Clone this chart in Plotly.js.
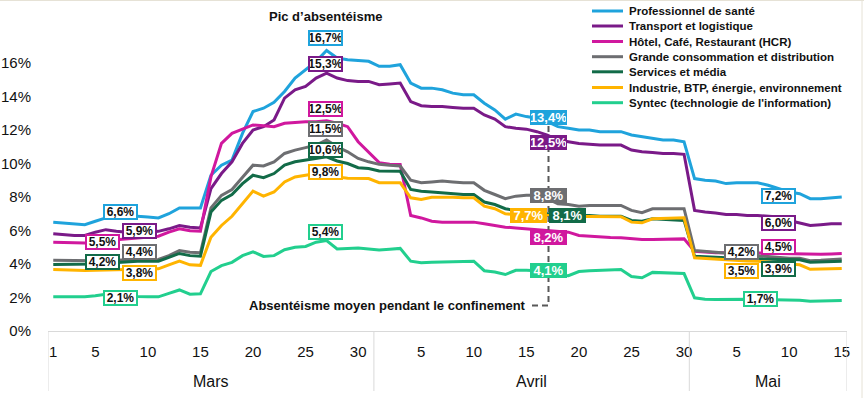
<!DOCTYPE html>
<html><head><meta charset="utf-8">
<script src="https://cdn.plot.ly/plotly-3.0.1.min.js"></script>
<style>html,body{margin:0;padding:0;background:#fff}#chart{width:864px;height:398px}</style>
</head><body><div id="chart"></div>
<script>
// ---------- DATA ----------
const months = ['Mars', 'Avril', 'Mai'];
const daysInMonth = [31, 30, 15];
const dayTicks = [1, 5, 10, 15, 20, 25, 30];
const yTickValues = [0, 2, 4, 6, 8, 10, 12, 14, 16];
const yTickLabels = ['0%', '2%', '4%', '6%', '8%', '10%', '12%', '14%', '16%'];

const seriesNames = [
  'Professionnel de santé',
  'Transport et logistique',
  'Hôtel, Café, Restaurant (HCR)',
  'Grande consommation et distribution',
  'Services et média',
  'Industrie, BTP, énergie, environnement',
  "Syntec (technologie de l'information)"
];

const sante = [6.5,6.45,6.4,6.35,6.55,6.75,6.85,6.85,6.85,6.8,6.75,7.0,7.35,7.35,7.35,
  9.3,9.9,10.2,11.8,13.1,13.3,13.65,14.3,15.1,15.6,16.1,16.75,16.3,16.2,16.15,16.1,
  15.8,15.8,15.9,14.8,14.5,14.5,14.4,14.2,14.1,14.1,13.6,13.2,12.65,12.95,12.8,12.7,12.5,12.2,12.1,12.0,12.0,11.9,11.9,11.9,11.7,11.6,11.5,11.4,11.4,11.3,
  9.1,9.0,8.95,8.8,8.85,8.85,8.85,8.7,8.5,8.3,8.2,7.9,7.9,7.95,8.0];
const transport = [5.8,5.75,5.7,5.7,5.9,6.05,5.95,5.9,5.9,5.9,5.95,6.1,6.3,6.2,6.15,
  8.5,9.4,10.1,11.2,12.0,12.2,12.6,13.9,14.4,14.6,15.1,15.4,15.1,14.95,14.9,14.9,
  14.7,14.75,14.8,13.7,13.45,13.4,13.4,13.35,13.3,13.3,12.9,12.65,12.2,12.1,12.05,11.9,11.7,11.4,11.3,11.2,11.15,11.1,11.1,11.1,10.8,10.7,10.65,10.6,10.6,10.55,
  7.2,7.1,7.05,6.95,6.95,6.9,6.9,6.85,6.8,6.6,6.45,6.3,6.35,6.4,6.4];
const hcr = [5.3,5.27,5.25,5.25,5.3,5.4,5.45,5.5,5.55,5.6,5.66,5.9,6.1,5.98,5.96,
  9.2,11.2,11.8,12.05,12.3,12.25,12.2,12.4,12.45,12.5,12.5,12.55,12.4,12.2,11.3,10.7,
  10.05,9.95,9.94,6.9,6.75,6.55,6.5,6.5,6.5,6.5,6.4,6.3,6.2,6.15,6.1,6.05,6.0,5.95,5.9,5.7,5.65,5.6,5.58,5.56,5.5,5.46,5.46,5.48,5.5,5.5,
  4.76,4.7,4.67,4.67,4.67,4.67,4.67,4.65,4.62,4.6,4.6,4.57,4.58,4.6,4.63];
const grandeConso = [4.23,4.22,4.2,4.2,4.2,4.22,4.23,4.23,4.25,4.27,4.27,4.5,4.8,4.7,4.67,
  7.35,8.1,8.45,9.2,9.9,9.85,10.1,10.6,10.8,10.95,11.1,11.4,11.0,10.7,10.3,10.1,
  9.95,9.9,9.85,9.0,8.85,8.9,8.95,8.9,8.85,8.85,8.4,8.15,7.9,8.05,8.1,8.1,7.9,7.6,7.55,7.45,7.5,7.5,7.5,7.5,7.2,7.06,7.3,7.3,7.3,7.3,
  4.8,4.75,4.7,4.67,4.6,4.55,4.5,4.45,4.4,4.35,4.35,4.2,4.22,4.25,4.3];
const services = [3.97,3.97,3.97,3.97,4.0,4.05,4.1,4.15,4.17,4.17,4.17,4.4,4.63,4.5,4.47,
  7.1,7.8,8.15,8.8,9.3,9.15,9.4,9.9,10.1,10.2,10.3,10.4,10.15,10.0,9.75,9.7,
  9.55,9.55,9.54,8.45,8.35,8.3,8.25,8.2,8.15,8.15,7.7,7.55,7.3,7.2,7.15,7.1,7.0,7.0,6.95,6.9,6.9,6.85,6.85,6.85,6.6,6.55,6.7,6.68,6.65,6.6,
  4.47,4.42,4.4,4.37,4.35,4.3,4.28,4.27,4.27,4.27,4.25,4.1,4.12,4.15,4.17];
const industrie = [3.67,3.64,3.62,3.61,3.62,3.64,3.66,3.67,3.68,3.7,3.71,3.95,4.17,3.95,3.92,
  5.6,6.3,6.85,7.6,8.35,8.05,8.3,8.9,9.2,9.3,9.4,9.4,9.2,9.12,9.1,9.1,
  8.85,8.85,8.85,7.95,7.85,7.98,8.0,7.98,7.95,7.95,7.45,7.3,7.0,6.95,6.9,6.9,6.9,6.85,6.85,6.82,6.82,6.82,6.82,6.82,6.5,6.46,6.7,6.72,6.75,6.76,
  4.37,4.33,4.28,4.23,4.2,4.18,4.17,4.1,4.05,4.0,3.95,3.68,3.7,3.72,3.73];
const syntec = [2.04,2.04,2.04,2.04,2.1,2.2,2.24,2.15,2.06,2.04,2.04,2.25,2.45,2.2,2.22,
  3.55,3.9,4.1,4.5,4.73,4.45,4.5,4.85,5.0,5.05,5.3,5.4,4.9,4.92,4.95,4.9,
  4.83,4.88,4.93,4.17,4.08,4.1,4.12,4.15,4.17,4.17,3.6,3.52,3.37,3.62,3.62,3.6,3.5,3.35,3.3,3.55,3.6,3.63,3.65,3.67,3.25,3.18,3.5,3.48,3.45,3.43,
  1.98,1.9,1.88,1.9,1.92,1.9,1.88,1.88,1.88,1.86,1.84,1.78,1.79,1.8,1.82];

// average labels (order = seriesNames)
const labelsEarlyMarch = ['6,6%','5,9%','5,5%','4,4%','4,2%','3,8%','2,1%'];
const labelsPeak       = ['16,7%','15,3%','12,5%','11,5%','10,6%','9,8%','5,4%'];
const labelsConfinement= ['13,4%','12,5%','8,2%','8,8%','8,1%','7,7%','4,1%'];
const labelsMay        = ['7,2%','6,0%','4,5%','4,2%','3,9%','3,5%','1,7%'];

const titlePeak = 'Pic d’absentéisme';
const titleConf = 'Absentéisme moyen pendant le confinement';

// ---------- STYLE ----------
const colors = ['#1fa3dc','#7a1a88','#d0189e','#6d6e71','#126b48','#ffb400','#22cf8e'];
const FONT = 'Arial, "Liberation Sans", sans-serif';
const L = 48, R = 847, T = 25, B = 331, W = 864, H = 398;
const px = x => (x - L) / (R - L);
const py = y => (B - y) / (B - T);

const allSeries = [sante, transport, hcr, grandeConso, services, industrie, syntec];

// x positions (day index) & tick labels from calendar categories
const nDays = daysInMonth.reduce((a, b) => a + b, 0);
const xs = Array.from({length: nDays}, (_, i) => i);
const tickvals = [], ticktext = [];
let off = 0;
daysInMonth.forEach((n, m) => {
  dayTicks.forEach(d => { if (d <= n && !(m > 0 && d === 1)) { tickvals.push(off + d - 1); ticktext.push(String(d)); } });
  off += n;
});

const traces = allSeries.map((s, i) => ({
  x: xs, y: s, type: 'scatter', mode: 'lines', name: seriesNames[i],
  line: {color: colors[i], width: 3}, hoverinfo: 'skip', showlegend: false
}));

const shapes = [];
const annotations = [];

// category box lines under the axis
const bounds = [-0.5];
off = 0; daysInMonth.forEach(n => { off += n; bounds.push(off - 0.5); });
bounds.forEach(b => shapes.push({type: 'line', xref: 'x', yref: 'paper', x0: b, x1: b, y0: 0, y1: py(391),
  line: {color: '#d9d9d9', width: 1}}));
off = 0;
daysInMonth.forEach((n, m) => {
  annotations.push({xref: 'x', yref: 'paper', x: off + (n - 1) / 2, y: py(381), text: months[m], showarrow: false,
    xanchor: 'center', yanchor: 'middle', font: {family: FONT, size: 16, color: '#111'}});
  off += n;
});

// legend (manual)
const legY = [11, 26, 41.5, 56.7, 71.8, 87.5, 102.7];
seriesNames.forEach((nm, i) => {
  shapes.push({type: 'line', xref: 'paper', yref: 'paper', x0: px(592), x1: px(623), y0: py(legY[i]), y1: py(legY[i]),
    line: {color: colors[i], width: 3}});
  annotations.push({xref: 'paper', yref: 'paper', x: px(627), y: py(legY[i]), text: '<b>' + nm + '</b>', showarrow: false,
    xanchor: 'left', yanchor: 'middle', font: {family: FONT, size: 11.5, color: '#111'}});
});

// titles inside the plot
annotations.push({xref: 'paper', yref: 'paper', x: px(325), y: py(16), text: '<b>' + titlePeak + '</b>', showarrow: false,
  xanchor: 'center', yanchor: 'middle', font: {family: FONT, size: 13, color: '#111'}});
annotations.push({xref: 'paper', yref: 'paper', x: px(528), y: py(305.5), text: '<b>' + titleConf + '</b>', showarrow: false,
  xanchor: 'right', yanchor: 'middle', font: {family: FONT, size: 13, color: '#111'}});

// dashed leader line
shapes.push({type: 'path', xref: 'paper', yref: 'paper',
  path: `M ${px(532)} ${py(305.5)} L ${px(548.5)} ${py(305.5)} L ${px(548.5)} ${py(118)}`,
  line: {color: '#595959', width: 2, dash: '6px,4px'}});

// outlined labels
const pos = {
  early: [[120.8,211.7],[139.2,230.8],[102.5,242.5],[139.2,252],[102.5,262],[139.2,273],[120.8,298]],
  peak:  [[325.5,38.5],[325.5,63.5],[325.5,108.5],[325.5,128.5],[325.5,150],[325.5,171.7],[325.5,231.7]],
  may:   [[778,196],[778,223.3],[778,247],[741,251.7],[778,269.3],[741,271],[760,299]],
  conf:  [[548.5,117],[548.5,142],[548.5,237],[548.5,195.3],[567,215.5],[528,215.5],[548.5,270.5]]
};
function outlined(texts, p) {
  texts.forEach((t, i) => annotations.push({xref: 'paper', yref: 'paper', x: px(p[i][0]), y: py(p[i][1]),
    text: '<b>' + t + '</b>', showarrow: false, xanchor: 'center', yanchor: 'middle',
    bgcolor: '#ffffff', bordercolor: colors[i], borderwidth: 2, borderpad: 0, width: 31, height: 12,
    font: {family: FONT, size: 12, color: '#111'}}));
}
outlined(labelsEarlyMarch, pos.early);
outlined(labelsPeak, pos.peak);
outlined(labelsMay, pos.may);
labelsConfinement.forEach((t, i) => annotations.push({xref: 'paper', yref: 'paper', x: px(pos.conf[i][0]), y: py(pos.conf[i][1]),
  text: '<b>' + t + '</b>', showarrow: false, xanchor: 'center', yanchor: 'middle',
  bgcolor: colors[i], bordercolor: colors[i], borderwidth: 1, borderpad: 0, width: 35, height: 13,
  font: {family: FONT, size: 13, color: '#ffffff'}}));

// faint frame
shapes.push({type: 'line', xref: 'paper', yref: 'paper', x0: px(0), x1: px(864), y0: py(0.5), y1: py(0.5), line: {color: '#e6e2d6', width: 1}});
shapes.push({type: 'line', xref: 'paper', yref: 'paper', x0: px(862), x1: px(862), y0: py(0), y1: py(398), line: {color: '#e6e2d6', width: 1}});

const layout = {
  width: W, height: H,
  margin: {l: L, r: W - R, t: T, b: H - B},
  paper_bgcolor: '#fff', plot_bgcolor: '#fff',
  showlegend: false,
  xaxis: {range: [-0.5, nDays - 0.5], tickmode: 'array', tickvals: tickvals, ticktext: ticktext, showgrid: false, zeroline: false,
    showline: true, linecolor: '#d9d9d9', linewidth: 1, ticks: 'outside', ticklen: 7, tickcolor: 'rgba(0,0,0,0)',
    tickfont: {family: FONT, size: 15, color: '#111'}, fixedrange: true},
  yaxis: {range: [0, (B - T) / 16.75], tickmode: 'array', tickvals: yTickValues, ticktext: yTickLabels, showgrid: false, zeroline: false,
    showline: false, ticks: 'outside', ticklen: 13, tickcolor: 'rgba(0,0,0,0)',
    tickfont: {family: FONT, size: 15, color: '#111'}, fixedrange: true},
  shapes: shapes, annotations: annotations
};
Plotly.newPlot('chart', traces, layout, {displayModeBar: false, staticPlot: true});
</script></body></html>
